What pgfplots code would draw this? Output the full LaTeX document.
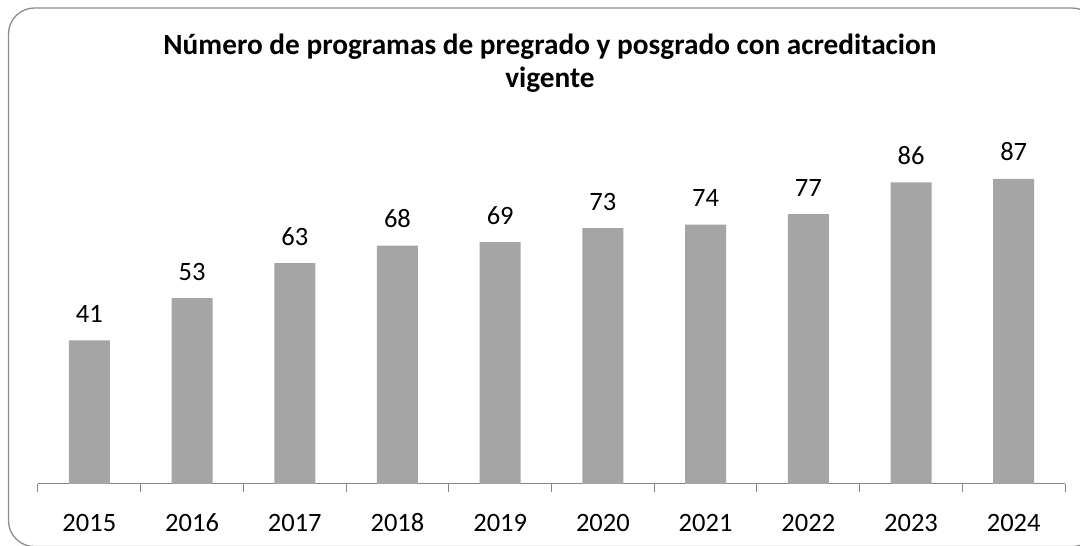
\documentclass[border=0pt]{standalone}
\usepackage{fontspec}
\setmainfont{Carlito}
\usepackage{pgfplots}
\pgfplotsset{compat=1.18}

\definecolor{bargray}{HTML}{A5A5A5}
\definecolor{linegray}{HTML}{868686}
\definecolor{framegray}{HTML}{8C8C8C}

\begin{document}
\begin{tikzpicture}[x=1pt,y=1pt]
\path[use as bounding box] (0,0) rectangle (1080,546);
\begin{scope}
\clip (0,0) rectangle (1080,546);
\draw[framegray, line width=1.3pt, rounded corners=26pt] (8.5,-0.6) rectangle (1098,538);
\end{scope}

% title, two lines
\node[anchor=base, font=\fontsize{29.3}{34}\selectfont\bfseries] at (550,491)
  {Número de programas de pregrado y posgrado con acreditacion};
\node[anchor=base, font=\fontsize{29.3}{34}\selectfont\bfseries] at (550,458) {vigente};

\begin{axis}[
  at={(38pt,62pt)}, anchor=south west,
  scale only axis, width=1027pt, height=350.6pt,
  xmin=-0.5, xmax=9.5, ymin=0, ymax=100,
  axis y line=none, axis x line*=bottom,
  x axis line style={linegray, line width=1pt, -},
  xtick={0,...,9},
  xticklabels={2015,2016,2017,2018,2019,2020,2021,2022,2023,2024},
  major x tick style={draw=none},
  minor xtick={-0.5,0.5,...,9.5},
  minor x tick style={linegray, line width=1pt},
  minor tick length=8pt,
  tick align=outside,
  xticklabel style={font=\fontsize{26.5}{30}\selectfont, anchor=base, yshift=-43pt},
  /pgf/number format/assume math mode=true,
  nodes near coords,
  nodes near coords style={font=\fontsize{26.5}{30}\selectfont, anchor=base, yshift=18pt, inner sep=0pt},
  clip=false,
]
\addplot[ybar, bar width=41pt, fill=bargray, draw=none] coordinates {
  (0,41) (1,53) (2,63) (3,68) (4,69) (5,73) (6,74) (7,77) (8,86) (9,87)
};
\end{axis}
\end{tikzpicture}
\end{document}
